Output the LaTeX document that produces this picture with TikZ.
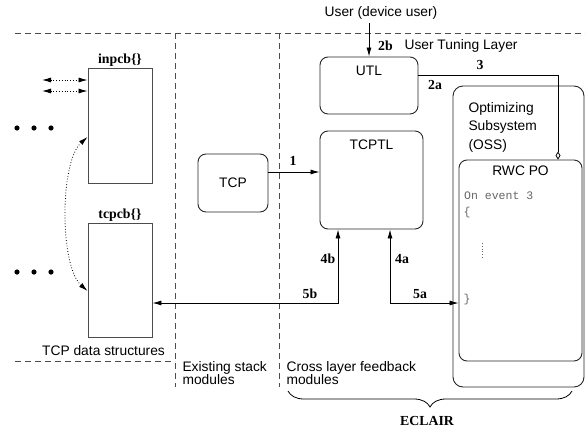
\documentclass[tikz,border=0pt]{standalone}
\usepackage{fontspec}
\setmainfont{Liberation Sans}
\setmonofont{Liberation Mono}
\newfontfamily\numfont{Liberation Serif}
\usetikzlibrary{arrows.meta, positioning, calc, decorations.pathreplacing}

\begin{document}
\begin{tikzpicture}[x=1pt, y=-1pt, >={Latex[length=9pt,width=5pt]},
  font=\fontsize{13.8pt}{16pt}\selectfont,
  sbox/.style={rectangle, draw=black!70, line width=0.9pt, minimum width=64pt, inner sep=0pt},
  rbox/.style={rectangle, rounded corners=8pt, draw=black!85, line width=0.9pt, inner sep=0pt},
  tag/.style={font=\numfont\bfseries\fontsize{13.8pt}{16pt}\selectfont, inner sep=1pt},
  title/.style={anchor=center, yshift=-14pt},
  code/.style={font=\ttfamily\fontsize{11.5pt}{13pt}\selectfont, text=black!60, inner sep=0pt},
  region/.style={dash pattern=on 6pt off 4pt, draw=black!70, line width=0.9pt}]
\useasboundingbox (0,0) rectangle (586,431);

% layer boundaries
\draw[region] (15,33) -- (585,33);
\draw[region] (175,33) -- (175,387);
\draw[region] (279,33) -- (279,387);
\draw[region] (15,361) -- (175,361);

% TCP data structures
\node[sbox, minimum height=115pt, label={[tag]above:inpcb\{\}}] (inpcb) at (120,125.5) {};
\node[sbox, minimum height=114pt, label={[tag]above:tcpcb\{\}}] (tcpcb) at (120,280) {};
\foreach \x in {17,34,51} {
  \fill (\x,128) circle (2.6pt);
  \fill (\x,272) circle (2.6pt);
}
\coordinate (ext1) at (42,80);
\coordinate (ext2) at (42,91);
\draw[<->, dotted, thick] (ext1) -- (ext1 -| inpcb.west);
\draw[<->, dotted, thick] (ext2) -- (ext2 -| inpcb.west);
\draw[<->, dotted, thick] ([yshift=-11pt]tcpcb.west) .. controls +(-28,-25) and +(-28,25) .. ([yshift=-11.5pt]inpcb.west);
\node (dstxt) at (103.5,351) {TCP data structures};

% Existing stack
\node[rbox, minimum width=70pt, minimum height=58pt] (tcp) at (233,183) {TCP};
\node[anchor=west, align=left, font=\fontsize{13.8pt}{13pt}\selectfont] (esm) at (179,373.5) {Existing stack\\modules};

% Cross layer feedback
\node (user) at (381,13) {User (device user)};
\node[rbox, minimum width=98pt, minimum height=57pt, label={[title]north:UTL}] (utl) at (369,85.5) {};
\node[rbox, minimum width=103pt, minimum height=98pt, label={[title]north:TCPTL}] (tcptl) at (371.5,180) {};
\node[anchor=west] (utlname) at (401,46) {User Tuning Layer};
\node[anchor=west, align=left, font=\fontsize{13.8pt}{13pt}\selectfont] (clf) at (283,373.5) {Cross layer feedback\\modules};

% OSS
\node[rbox, rounded corners=10pt, minimum width=131pt, minimum height=301pt] (oss) at (518.5,236.5) {};
\node[anchor=west, align=left, font=\fontsize{13.8pt}{18.5pt}\selectfont] (osstxt) at (465,127) {Optimizing\\Subsystem\\(OSS)};
\node[rbox, minimum width=123pt, minimum height=201pt, label={[title, yshift=3pt]north:RWC PO}] (rwc) at (520.5,260.5) {};
\node[code, anchor=west] (ev) at (464,196) {On event 3};
\node[code] (lb) at (467,213) {\{};
\node[code] (rb) at (467,300) {\}};
\draw[dotted, black!60, thick] (482,243) -- (482,258);

% connectors
\draw[->, thick] (utl.north |- user.south) -- (utl.north);
\draw[->, thick] ([yshift=11pt]tcp.east) -- ([yshift=11pt]tcp.east -| tcptl.west);
\draw[thick, -{Diamond[open, length=8pt, width=5pt]}] ([yshift=10.5pt]utl.east) -| ([xshift=37.5pt]rwc.north);
\draw[<->, thick] ([yshift=-23pt]tcpcb.east) -| ([xshift=-33.5pt]tcptl.south);
\draw[<->, thick] ([xshift=18.5pt]tcptl.south) |- ([yshift=-42.5pt]rwc.west);

\node[tag] (n1) at (293,161) {1};
\node[tag] (n2b) at (385.5,46) {2b};
\node[tag] (n2a) at (435,85) {2a};
\node[tag] (n3) at (480,65) {3};
\node[tag] (n4b) at (328,259) {4b};
\node[tag] (n4a) at (402,259) {4a};
\node[tag] (n5b) at (310,294) {5b};
\node[tag] (n5a) at (420,294) {5a};

% ECLAIR
\coordinate (bl) at (288,391);
\coordinate (br) at (572,391);
\draw[thick, decorate, decoration={brace, mirror, amplitude=16pt, aspect=0.5}] (bl) -- (br);
\node[tag] (eclair) at (427,421) {ECLAIR};
\end{tikzpicture}
\end{document}
